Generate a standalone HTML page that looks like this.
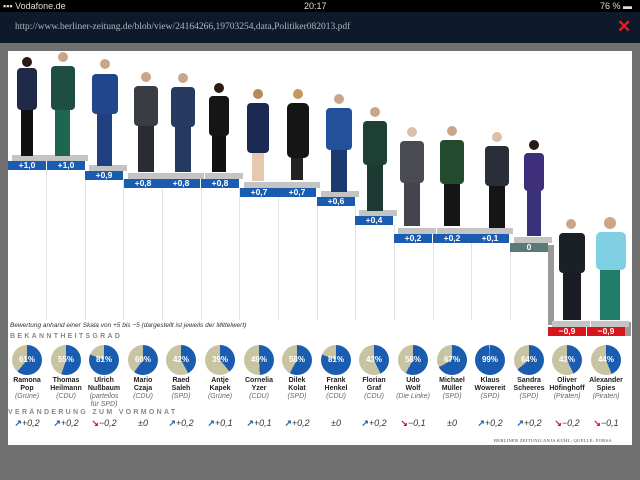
<!DOCTYPE html>
<html><head><meta charset="utf-8"><style>
*{margin:0;padding:0;box-sizing:border-box}
body{width:640px;height:480px;background:#707070;position:relative;overflow:hidden;font-family:"Liberation Sans",sans-serif}
.a{position:absolute}
.st{top:0;left:0;width:640px;height:12px;background:#000;color:#ddd;font-size:9px;line-height:12px}
.nav{top:12px;left:0;width:640px;height:31px;background:#0e1a2b}
.pg{left:8px;top:51px;width:624px;height:394px;background:#fff}
.lb{height:9px;width:38px;color:#fff;font-size:8.5px;font-weight:bold;text-align:center;line-height:9px;background:#1a5cb0}
.pl{height:6px;width:38px;background:#c4c4c4}
.sep{width:1px;background:#e2e2e2}
.pie{width:30px;height:30px;border-radius:50%;color:#fff;font-size:8px;font-weight:bold;text-align:center;line-height:30px}
.nm{width:40px;text-align:center;font-size:7px;font-weight:bold;line-height:8px;color:#222}
.nm i{font-weight:normal;color:#666;display:block}
.ch{width:40px;text-align:center;font-size:9px;font-style:italic;color:#333}
.up{color:#1a5cb0;font-style:normal;font-weight:bold}
.dn{color:#c8102e;font-style:normal;font-weight:bold}
</style></head><body>
<div class="a st"><span style="margin-left:3px">▪▪▪ Vodafone.de</span><span class="a" style="left:304px">20:17</span><span class="a" style="left:600px">76 % ▬</span></div>
<div class="a nav"><span class="a" style="left:15px;top:10px;font-family:'Liberation Serif',serif;font-size:9.5px;color:#b0b6c2">http://www.berliner-zeitung.de/blob/view/24164266,19703254,data,Politiker082013.pdf</span><span class="a" style="left:617px;top:5px;color:#e02020;font-size:17px;font-weight:bold">✕</span></div>
<div class="a pg"></div>

<div class="a sep" style="left:46px;top:170px;height:150px"></div>
<div class="a sep" style="left:85px;top:170px;height:150px"></div>
<div class="a sep" style="left:123px;top:180px;height:140px"></div>
<div class="a sep" style="left:162px;top:188px;height:132px"></div>
<div class="a sep" style="left:201px;top:188px;height:132px"></div>
<div class="a sep" style="left:239px;top:188px;height:132px"></div>
<div class="a sep" style="left:278px;top:197px;height:123px"></div>
<div class="a sep" style="left:317px;top:197px;height:123px"></div>
<div class="a sep" style="left:355px;top:206px;height:114px"></div>
<div class="a sep" style="left:394px;top:225px;height:95px"></div>
<div class="a sep" style="left:433px;top:243px;height:77px"></div>
<div class="a sep" style="left:471px;top:243px;height:77px"></div>
<div class="a sep" style="left:510px;top:243px;height:77px"></div>
<div class="a" style="left:548px;top:245px;width:6px;height:80px;background:#9a9a9a"></div>
<div class="a" style="left:625px;top:322px;width:6px;height:14px;background:#9a9a9a"></div>

<div class="a pl" style="left:12px;top:155px"></div><div class="a lb" style="left:8px;top:161px">+1,0</div>
<div class="a pl" style="left:50px;top:155px"></div><div class="a lb" style="left:47px;top:161px">+1,0</div>
<div class="a pl" style="left:89px;top:165px"></div><div class="a lb" style="left:85px;top:171px">+0,9</div>
<div class="a pl" style="left:128px;top:173px"></div><div class="a lb" style="left:124px;top:179px">+0,8</div>
<div class="a pl" style="left:166px;top:173px"></div><div class="a lb" style="left:162px;top:179px">+0,8</div>
<div class="a pl" style="left:205px;top:173px"></div><div class="a lb" style="left:201px;top:179px">+0,8</div>
<div class="a pl" style="left:244px;top:182px"></div><div class="a lb" style="left:240px;top:188px">+0,7</div>
<div class="a pl" style="left:282px;top:182px"></div><div class="a lb" style="left:278px;top:188px">+0,7</div>
<div class="a pl" style="left:321px;top:191px"></div><div class="a lb" style="left:317px;top:197px">+0,6</div>
<div class="a pl" style="left:359px;top:210px"></div><div class="a lb" style="left:355px;top:216px">+0,4</div>
<div class="a pl" style="left:398px;top:228px"></div><div class="a lb" style="left:394px;top:234px">+0,2</div>
<div class="a pl" style="left:437px;top:228px"></div><div class="a lb" style="left:433px;top:234px">+0,2</div>
<div class="a pl" style="left:475px;top:228px"></div><div class="a lb" style="left:471px;top:234px">+0,1</div>
<div class="a pl" style="left:514px;top:237px"></div><div class="a lb" style="left:510px;top:243px;background:#5a7a78">0</div>
<div class="a pl" style="left:552px;top:321px"></div><div class="a lb" style="left:548px;top:327px;background:#d8141c">−0,9</div>
<div class="a pl" style="left:591px;top:321px"></div><div class="a lb" style="left:587px;top:327px;background:#d8141c">−0,9</div>

<svg class="a" style="left:0;top:0" width="640" height="480">
<g>
<circle cx="27" cy="62" r="5" fill="#2a1a14"/><rect x="17" y="68" width="20" height="42" rx="4" fill="#1f2a48"/><rect x="21" y="110" width="12" height="46" fill="#111"/>
<circle cx="63" cy="57" r="5" fill="#c9a68a"/><rect x="51" y="66" width="24" height="44" rx="4" fill="#1e4d44"/><rect x="55" y="110" width="15" height="46" fill="#1f6652"/>
<circle cx="105" cy="64" r="5" fill="#c9a68a"/><rect x="92" y="74" width="26" height="40" rx="4" fill="#21468c"/><rect x="97" y="114" width="15" height="52" fill="#1f3f80"/>
<circle cx="146" cy="77" r="5" fill="#c9a68a"/><rect x="134" y="86" width="24" height="40" rx="4" fill="#3a3c44"/><rect x="138" y="126" width="16" height="46" fill="#2a2c33"/>
<circle cx="183" cy="78" r="5" fill="#c9a68a"/><rect x="171" y="87" width="24" height="40" rx="4" fill="#273b62"/><rect x="175" y="127" width="16" height="45" fill="#253a60"/>
<circle cx="219" cy="88" r="5" fill="#2a1a14"/><rect x="209" y="96" width="20" height="40" rx="4" fill="#151515"/><rect x="212" y="136" width="14" height="36" fill="#111"/>
<circle cx="258" cy="94" r="5" fill="#b48a5a"/><rect x="247" y="103" width="22" height="50" rx="4" fill="#1b2a55"/><rect x="252" y="153" width="12" height="28" fill="#e4c8b0"/>
<circle cx="298" cy="94" r="5" fill="#c29a5a"/><rect x="287" y="103" width="22" height="55" rx="5" fill="#151515"/><rect x="291" y="158" width="12" height="22" fill="#222"/>
<circle cx="339" cy="99" r="5" fill="#c9a68a"/><rect x="326" y="108" width="26" height="42" rx="4" fill="#22509a"/><rect x="331" y="150" width="16" height="42" fill="#1d3a70"/>
<circle cx="375" cy="112" r="5" fill="#c9a68a"/><rect x="363" y="121" width="24" height="44" rx="4" fill="#1e3f33"/><rect x="367" y="165" width="16" height="46" fill="#1d3a32"/>
<circle cx="412" cy="132" r="5" fill="#d8c0aa"/><rect x="400" y="141" width="24" height="42" rx="4" fill="#4a4a52"/><rect x="404" y="183" width="16" height="43" fill="#44444c"/>
<circle cx="452" cy="131" r="5" fill="#c9a68a"/><rect x="440" y="140" width="24" height="44" rx="4" fill="#234a2c"/><rect x="444" y="184" width="16" height="42" fill="#151515"/>
<circle cx="497" cy="137" r="5" fill="#d8c0aa"/><rect x="485" y="146" width="24" height="40" rx="4" fill="#2a2e38"/><rect x="489" y="186" width="16" height="42" fill="#151515"/>
<circle cx="534" cy="145" r="5" fill="#2a1a14"/><rect x="524" y="153" width="20" height="38" rx="4" fill="#3f2f7a"/><rect x="527" y="191" width="14" height="45" fill="#3a3278"/>
<circle cx="571" cy="224" r="5" fill="#c9a68a"/><rect x="559" y="233" width="26" height="40" rx="4" fill="#1b1f26"/><rect x="563" y="273" width="18" height="47" fill="#1a1d24"/>
<circle cx="610" cy="223" r="6" fill="#c9a68a"/><rect x="596" y="232" width="30" height="38" rx="5" fill="#7fd0e2"/><rect x="600" y="270" width="20" height="50" fill="#217c6a"/>
</g></svg>

<div class="a" style="left:10px;top:322px;font-size:6.5px;font-style:italic;color:#333">Bewertung anhand einer Skala von +5 bis −5 (dargestellt ist jeweils der Mittelwert)</div>
<div class="a" style="left:10px;top:333px;font-size:7px;font-weight:bold;letter-spacing:2.3px;color:#888">BEKANNTHEITSGRAD</div>

<div class="a pie" style="left:12px;top:345px;background:conic-gradient(#1a5cb0 0 61%,#c8c3a0 0)">61%</div>
<div class="a pie" style="left:51px;top:345px;background:conic-gradient(#1a5cb0 0 55%,#c8c3a0 0)">55%</div>
<div class="a pie" style="left:89px;top:345px;background:conic-gradient(#1a5cb0 0 81%,#c8c3a0 0)">81%</div>
<div class="a pie" style="left:128px;top:345px;background:conic-gradient(#1a5cb0 0 60%,#c8c3a0 0)">60%</div>
<div class="a pie" style="left:166px;top:345px;background:conic-gradient(#1a5cb0 0 42%,#c8c3a0 0)">42%</div>
<div class="a pie" style="left:205px;top:345px;background:conic-gradient(#1a5cb0 0 39%,#c8c3a0 0)">39%</div>
<div class="a pie" style="left:244px;top:345px;background:conic-gradient(#1a5cb0 0 49%,#c8c3a0 0)">49%</div>
<div class="a pie" style="left:282px;top:345px;background:conic-gradient(#1a5cb0 0 58%,#c8c3a0 0)">58%</div>
<div class="a pie" style="left:321px;top:345px;background:conic-gradient(#1a5cb0 0 81%,#c8c3a0 0)">81%</div>
<div class="a pie" style="left:359px;top:345px;background:conic-gradient(#1a5cb0 0 43%,#c8c3a0 0)">43%</div>
<div class="a pie" style="left:398px;top:345px;background:conic-gradient(#1a5cb0 0 58%,#c8c3a0 0)">58%</div>
<div class="a pie" style="left:437px;top:345px;background:conic-gradient(#1a5cb0 0 67%,#c8c3a0 0)">67%</div>
<div class="a pie" style="left:475px;top:345px;background:conic-gradient(#1a5cb0 0 99%,#c8c3a0 0)">99%</div>
<div class="a pie" style="left:514px;top:345px;background:conic-gradient(#1a5cb0 0 64%,#c8c3a0 0)">64%</div>
<div class="a pie" style="left:552px;top:345px;background:conic-gradient(#1a5cb0 0 43%,#c8c3a0 0)">43%</div>
<div class="a pie" style="left:591px;top:345px;background:conic-gradient(#1a5cb0 0 44%,#c8c3a0 0)">44%</div>

<div class="a nm" style="left:7px;top:377px">Ramona<br>Pop<i>(Grüne)</i></div>
<div class="a nm" style="left:46px;top:377px">Thomas<br>Heilmann<i>(CDU)</i></div>
<div class="a nm" style="left:84px;top:377px">Ulrich<br>Nußbaum<i>(parteilos<br>für SPD)</i></div>
<div class="a nm" style="left:123px;top:377px">Mario<br>Czaja<i>(CDU)</i></div>
<div class="a nm" style="left:161px;top:377px">Raed<br>Saleh<i>(SPD)</i></div>
<div class="a nm" style="left:200px;top:377px">Antje<br>Kapek<i>(Grüne)</i></div>
<div class="a nm" style="left:239px;top:377px">Cornelia<br>Yzer<i>(CDU)</i></div>
<div class="a nm" style="left:277px;top:377px">Dilek<br>Kolat<i>(SPD)</i></div>
<div class="a nm" style="left:316px;top:377px">Frank<br>Henkel<i>(CDU)</i></div>
<div class="a nm" style="left:354px;top:377px">Florian<br>Graf<i>(CDU)</i></div>
<div class="a nm" style="left:393px;top:377px">Udo<br>Wolf<i>(Die Linke)</i></div>
<div class="a nm" style="left:432px;top:377px">Michael<br>Müller<i>(SPD)</i></div>
<div class="a nm" style="left:470px;top:377px">Klaus<br>Wowereit<i>(SPD)</i></div>
<div class="a nm" style="left:509px;top:377px">Sandra<br>Scheeres<i>(SPD)</i></div>
<div class="a nm" style="left:547px;top:377px">Oliver<br>Höfinghoff<i>(Piraten)</i></div>
<div class="a nm" style="left:586px;top:377px">Alexander<br>Spies<i>(Piraten)</i></div>

<div class="a" style="left:8px;top:409px;font-size:7px;font-weight:bold;letter-spacing:2.3px;color:#888">VERÄNDERUNG ZUM VORMONAT</div>

<div class="a ch" style="left:7px;top:418px"><span class="up">↗</span>+0,2</div>
<div class="a ch" style="left:46px;top:418px"><span class="up">↗</span>+0,2</div>
<div class="a ch" style="left:84px;top:418px"><span class="dn">↘</span>−0,2</div>
<div class="a ch" style="left:123px;top:418px">±0</div>
<div class="a ch" style="left:161px;top:418px"><span class="up">↗</span>+0,2</div>
<div class="a ch" style="left:200px;top:418px"><span class="up">↗</span>+0,1</div>
<div class="a ch" style="left:239px;top:418px"><span class="up">↗</span>+0,1</div>
<div class="a ch" style="left:277px;top:418px"><span class="up">↗</span>+0,2</div>
<div class="a ch" style="left:316px;top:418px">±0</div>
<div class="a ch" style="left:354px;top:418px"><span class="up">↗</span>+0,2</div>
<div class="a ch" style="left:393px;top:418px"><span class="dn">↘</span>−0,1</div>
<div class="a ch" style="left:432px;top:418px">±0</div>
<div class="a ch" style="left:470px;top:418px"><span class="up">↗</span>+0,2</div>
<div class="a ch" style="left:509px;top:418px"><span class="up">↗</span>+0,2</div>
<div class="a ch" style="left:547px;top:418px"><span class="dn">↘</span>−0,2</div>
<div class="a ch" style="left:586px;top:418px"><span class="dn">↘</span>−0,1</div>

<div class="a" style="left:494px;top:438px;font-size:4.5px;font-family:'Liberation Serif',serif;color:#444;letter-spacing:0.3px">BERLINER ZEITUNG/ANJA KÜHL; QUELLE: FORSA</div>
</body></html>
